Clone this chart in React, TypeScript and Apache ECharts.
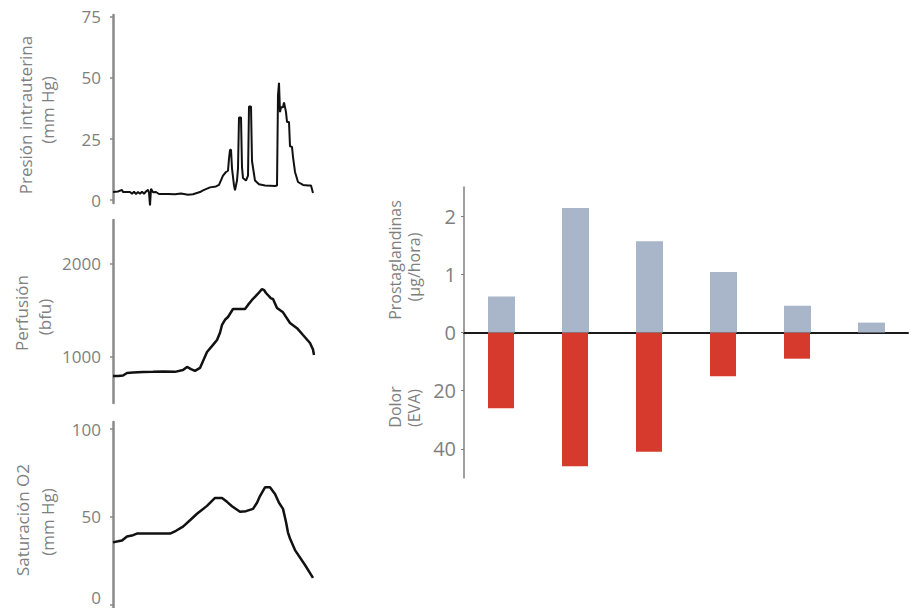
import React, { useEffect, useRef } from "react";
import * as echarts from "echarts";

// Presión intrauterina (mm Hg) a lo largo del registro
const presionTiempo = [0, 5, 9, 10, 17, 19, 21, 23, 25, 27, 29, 31, 33, 35, 36, 37, 38, 40, 43, 46, 55, 62, 68, 75, 80, 87, 90, 97, 103, 106, 110, 113, 115, 116, 117, 118, 119, 121, 122, 124, 125, 126, 128, 129, 130, 133, 135, 136, 138, 139, 142, 146, 152, 162, 164, 165, 166, 167, 168, 170, 171, 173, 174, 176, 177, 179, 180, 182, 185, 190, 195, 198, 200];
const presionValores = [3.3, 3.5, 4.2, 3.3, 3.3, 2.6, 3.4, 2.5, 3.3, 2.6, 3.4, 2.6, 3.5, 4.2, 3.0, -2.2, 4.6, 3.2, 3.3, 2.5, 2.5, 2.4, 2.7, 2.2, 2.4, 3.3, 4, 5.2, 5.6, 6.2, 10, 11.5, 12, 17, 20.6, 20.6, 13, 6, 4, 8, 13, 33.8, 33.8, 13.5, 9, 8, 10, 38.3, 38.3, 16, 8, 6.5, 6, 5.8, 6, 43, 48, 36, 38, 38, 40, 36, 32, 32, 22, 21.8, 17.7, 11.5, 7.4, 6.2, 6, 6, 2.9];

// Perfusión (bfu)
const perfusionTiempo = [0, 5, 10, 14, 20, 30, 40, 50, 62, 70, 74, 78, 82, 87, 94, 100, 104, 107, 109, 112, 115, 120, 132, 135, 139, 145, 149, 151, 153, 158, 160, 164, 170, 177, 184, 190, 197, 200, 201];
const perfusionValores = [796, 796, 800, 828, 832, 838, 840, 845, 840, 860, 893, 870, 850, 882, 1054, 1130, 1183, 1260, 1344, 1400, 1430, 1516, 1516, 1560, 1613, 1680, 1731, 1720, 1688, 1630, 1624, 1527, 1480, 1366, 1310, 1236, 1150, 1080, 1021];

// Saturación O2 (mm Hg)
const saturacionTiempo = [0, 5, 9, 14, 20, 24, 40, 57, 63, 70, 77, 84, 94, 102, 109, 114, 119, 127, 133, 140, 144, 147, 152, 157, 162, 166, 170, 173, 175, 177, 182, 192, 200];
const saturacionValores = [35.4, 36, 36.5, 38.8, 39.5, 40.4, 40.4, 40.4, 42, 44.4, 48, 51.7, 56.2, 60.7, 60.7, 58.5, 56, 52.8, 53.2, 54.5, 58, 61.8, 66.8, 66.8, 63, 58, 54.5, 47, 41, 37.6, 31, 22.5, 15.2];

// Barras: prostaglandinas (µg/hora) arriba, dolor (EVA) abajo
const categorias = ["1", "2", "3", "4", "5", "6"];
const prostaglandinas = [0.62, 2.14, 1.57, 1.04, 0.46, 0.17];
const dolor = [26, 46, 41, 15, 9, 0];

const ticksPresion = [0, 25, 50, 75];
const ticksPerfusion = [1000, 2000];
const ticksSaturacion = [0, 50, 100];
const ticksBarras = [-2, -1, 0, 1, 2];

// 1 unidad de prostaglandinas ocupa lo mismo que 20 de EVA
const ESCALA_DOLOR = 20;

const GRAY = "#7f7f7f";
const FONT = "Open Sans";

const zip = (t: number[], v: number[]) => t.map((x, i) => [x, v[i]]);

function leftY(min: number, max: number, ticks: number[], lowLabel = false) {
  return {
    type: "value",
    min,
    max,
    axisLine: { show: true, lineStyle: { color: "#8a8a8a", width: 2.5 } },
    axisTick: { show: true, length: 3, customValues: ticks, lineStyle: { color: "#8a8a8a", width: 1.5 } },
    axisLabel: {
      customValues: ticks,
      color: GRAY,
      fontSize: 17,
      fontFamily: FONT,
      margin: 12,
      // la etiqueta más baja se sube un poco para que quede dentro del lienzo
      formatter: (v: number) => (lowLabel && v === ticks[0] ? `{low|${v}}` : String(v)),
      rich: {
        low: { color: GRAY, fontSize: 17, fontFamily: FONT, padding: [0, 0, 14, 0] },
      },
    },
    splitLine: { show: false },
  };
}

function leftX() {
  return { type: "value", min: 0, max: 202, show: false };
}

function vText(text: string, x: number, y: number, size: number) {
  return {
    type: "text",
    x,
    y,
    rotation: Math.PI / 2,
    silent: true,
    style: {
      text,
      fill: GRAY,
      fontSize: size,
      fontFamily: FONT,
      textAlign: "center",
      textVerticalAlign: "middle",
      align: "center",
      verticalAlign: "middle",
    },
  };
}

function lineSeries(idx: number, t: number[], v: number[], width: number) {
  return {
    type: "line",
    xAxisIndex: idx,
    yAxisIndex: idx,
    data: zip(t, v),
    showSymbol: false,
    symbol: "none",
    clip: false,
    lineStyle: { color: "#111111", width },
    silent: true,
  };
}

export default function App() {
  const ref = useRef<HTMLDivElement>(null);

  useEffect(() => {
    if (!ref.current) return;
    const chart = echarts.init(ref.current, undefined, { renderer: "svg" });
    chart.setOption({
      animation: false,
      backgroundColor: "#ffffff",
      grid: [
        { left: 113, top: 15, width: 202, height: 188 },
        { left: 113, top: 220, width: 202, height: 183 },
        { left: 113, top: 422, width: 202, height: 189 },
        { left: 464, top: 187, width: 444, height: 291 },
      ],
      xAxis: [
        { ...leftX(), gridIndex: 0 },
        { ...leftX(), gridIndex: 1 },
        { ...leftX(), gridIndex: 2 },
        {
          type: "category",
          gridIndex: 3,
          data: categorias,
          axisLine: { show: true, onZero: true, lineStyle: { color: "#1a1a1a", width: 2 } },
          axisTick: { show: false },
          axisLabel: { show: false },
        },
      ],
      yAxis: [
        { ...leftY(-1.2, 75.8, ticksPresion), gridIndex: 0 },
        { ...leftY(505, 2473, ticksPerfusion), gridIndex: 1 },
        { ...leftY(-2, 104, ticksSaturacion, true), gridIndex: 2 },
        {
          type: "value",
          gridIndex: 3,
          min: -2.5,
          max: 2.5,
          axisLine: { show: true, lineStyle: { color: GRAY, width: 1.5 } },
          axisTick: { show: true, length: 3, customValues: ticksBarras, lineStyle: { color: GRAY } },
          axisLabel: {
            customValues: ticksBarras,
            color: GRAY,
            fontSize: 20,
            fontFamily: FONT,
            margin: 8,
            formatter: (v: number) => (v < 0 ? String(Math.round(-v * ESCALA_DOLOR)) : String(v)),
          },
          splitLine: { show: false },
        },
      ],
      series: [
        lineSeries(0, presionTiempo, presionValores, 2),
        lineSeries(1, perfusionTiempo, perfusionValores, 2.5),
        lineSeries(2, saturacionTiempo, saturacionValores, 2.5),
        {
          type: "bar",
          name: "Prostaglandinas",
          xAxisIndex: 3,
          yAxisIndex: 3,
          data: prostaglandinas,
          barWidth: 27,
          barGap: "-100%",
          itemStyle: { color: "#a9b5c8" },
          silent: true,
        },
        {
          type: "bar",
          name: "Dolor",
          xAxisIndex: 3,
          yAxisIndex: 3,
          data: dolor.map((v) => -v / ESCALA_DOLOR),
          barWidth: 26,
          barGap: "-100%",
          itemStyle: { color: "#d63a2c" },
          silent: true,
          z: 1,
        },
      ],
      graphic: [
        vText("Presión intrauterina", 25, 115, 17),
        vText("(mm Hg)", 47, 110, 17),
        vText("Perfusión", 21, 313, 17),
        vText("(bfu)", 44, 317, 17),
        vText("Saturación O2", 22, 520, 17),
        vText("(mm Hg)", 47, 522, 17),
        vText("Prostaglandinas", 395, 260, 16),
        vText("(µg/hora)", 414, 267, 16),
        vText("Dolor", 395, 407, 16),
        vText("(EVA)", 414, 408, 16),
      ],
    });
    return () => chart.dispose();
  }, []);

  return (
    <div
      ref={ref}
      style={{ position: "fixed", left: 0, top: 0, width: 916, height: 608, background: "#ffffff" }}
    />
  );
}
